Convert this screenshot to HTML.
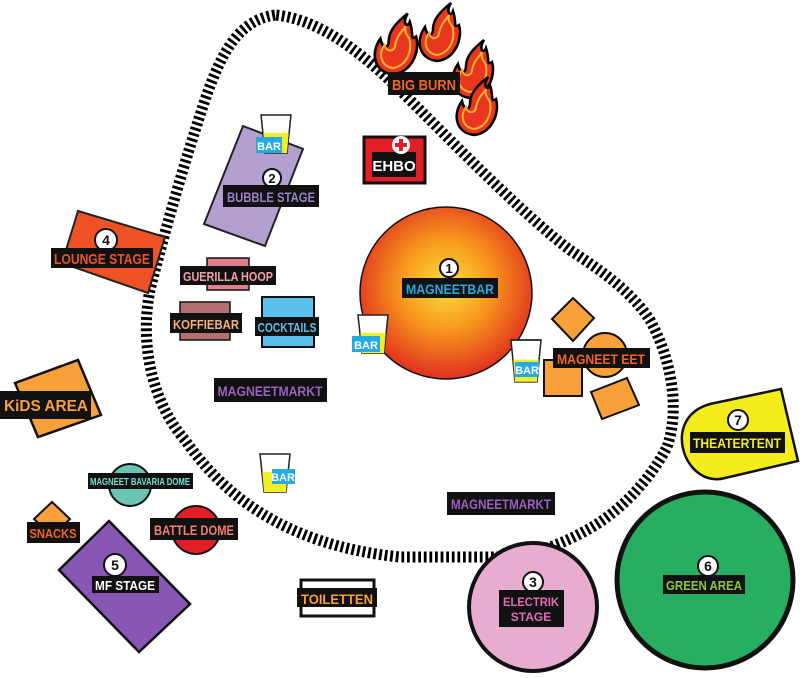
<!DOCTYPE html>
<html><head><meta charset="utf-8"><style>
html,body{margin:0;padding:0;background:#fff;}
svg text{font-family:"Liberation Sans Narrow","Liberation Sans",sans-serif;font-weight:bold;}
</style></head><body>
<svg width="800" height="673" viewBox="0 0 800 673" xmlns="http://www.w3.org/2000/svg">
<defs>
<radialGradient id="mg" cx="0.5" cy="0.45" r="0.55">
<stop offset="0" stop-color="#fbe23a"/><stop offset="0.5" stop-color="#f7941d"/><stop offset="1" stop-color="#e0301e"/>
</radialGradient>
<g id="flame"><path d="M0,28 C-18,26 -22,8 -12,-6 C-10,4 -4,4 -4,-4 C-4,-14 4,-22 14,-30 C8,-20 14,-16 16,-22 C20,-10 16,-4 22,-8 C26,6 18,26 0,28 Z" fill="#e8361f" stroke="#000" stroke-width="2.5"/>
<path d="M0,22 C-12,20 -14,8 -8,0 C-6,8 2,6 2,0 C4,-10 10,-14 12,-18 C10,-10 16,-8 16,-4 C18,8 12,20 0,22 Z" fill="none" stroke="#f9b233" stroke-width="2"/></g>
<g id="cup"><path d="M0,0 H30 L26,38 H4 Z" fill="#fff" stroke="#222" stroke-width="1.5"/><path d="M2.3,18 H27.7 L26,38 H4 Z" fill="#f2ee2a"/></g>
</defs>

<!-- boundary -->
<path d="M275,15 C240,20 222,50 205,100 C185,160 165,230 150,290 C140,340 150,400 185,440 C220,490 280,545 400,557 L490,557 C530,557 560,545 587,530 C620,512 650,480 667,447 C680,410 672,360 650,320 C630,290 600,270 570,250 C530,220 470,160 420,110 C380,70 330,20 275,15 Z" fill="none" stroke="#000" stroke-width="11" stroke-dasharray="2.8,2.8"/>

<!-- flames -->
<use href="#flame" transform="translate(393,45) scale(1.05)"/>
<use href="#flame" transform="translate(437,33)"/>
<use href="#flame" transform="translate(470,70)"/>
<use href="#flame" transform="translate(474,107)"/>
<rect x="388" y="72" width="72" height="23" fill="#111"/>
<text x="424" y="90" font-size="15" fill="#f26522" text-anchor="middle" textLength="64" lengthAdjust="spacingAndGlyphs">BIG BURN</text>

<!-- EHBO -->
<rect x="364" y="137" width="61" height="46" fill="#e31e24" stroke="#111" stroke-width="3"/>
<rect x="372" y="152" width="44" height="25" fill="#111"/>
<text x="394" y="171" font-size="15" fill="#fff" text-anchor="middle">EHBO</text>
<circle cx="401" cy="145" r="9" fill="#fff"/>
<path d="M399,139 h4 v4 h4 v4 h-4 v4 h-4 v-4 h-4 v-4 h4 z" fill="#e31e24"/>

<!-- Bubble stage -->
<polygon points="243,126 303,149 265,246 204,224" fill="#b4a0d0" stroke="#222" stroke-width="2"/>
<use href="#cup" transform="translate(261,115)"/>
<rect x="256" y="137" width="26" height="16" fill="#27aae1"/>
<text x="269" y="150" font-size="11" fill="#fff" text-anchor="middle">BAR</text>
<circle cx="272" cy="178" r="9" fill="#fff" stroke="#111" stroke-width="2"/>
<text x="272" y="183" font-size="13" fill="#111" text-anchor="middle">2</text>
<rect x="223" y="185" width="96" height="22" fill="#111"/>
<text x="271" y="202" font-size="14" fill="#9b7fc9" text-anchor="middle" textLength="88" lengthAdjust="spacingAndGlyphs">BUBBLE STAGE</text>

<!-- Lounge stage -->
<polygon points="78,211 165,237 148,293 62,263" fill="#ee5224" stroke="#222" stroke-width="2"/>
<circle cx="106" cy="240" r="11" fill="#fff" stroke="#111" stroke-width="2"/>
<text x="106" y="245" font-size="14" fill="#111" text-anchor="middle">4</text>
<rect x="51" y="248" width="102" height="20" fill="#111"/>
<text x="102" y="264" font-size="15" fill="#ee5224" text-anchor="middle" textLength="96" lengthAdjust="spacingAndGlyphs">LOUNGE STAGE</text>

<!-- Guerilla hoop -->
<rect x="207" y="258" width="42" height="32" fill="#e07e8c" stroke="#111" stroke-width="1.5"/>
<rect x="180" y="266" width="96" height="19" fill="#111"/>
<text x="228" y="281" font-size="13" fill="#f0a0aa" text-anchor="middle" textLength="90" lengthAdjust="spacingAndGlyphs">GUERILLA HOOP</text>

<!-- Koffiebar -->
<rect x="180" y="302" width="50" height="38" fill="#b46f6f" stroke="#111" stroke-width="1.5"/>
<rect x="170" y="313" width="72" height="20" fill="#111"/>
<text x="206" y="329" font-size="13" fill="#f6b07a" text-anchor="middle" textLength="66" lengthAdjust="spacingAndGlyphs">KOFFIEBAR</text>

<!-- Cocktails -->
<rect x="262" y="297" width="52" height="50" fill="#5bc0eb" stroke="#111" stroke-width="2"/>
<rect x="255" y="317" width="64" height="19" fill="#111"/>
<text x="287" y="332" font-size="13" fill="#5bc0eb" text-anchor="middle" textLength="59" lengthAdjust="spacingAndGlyphs">COCKTAILS</text>

<!-- Magneetmarkt 1 -->
<rect x="214" y="378" width="113" height="24" fill="#111"/>
<text x="270" y="396" font-size="14" fill="#9b5fc0" text-anchor="middle" textLength="105" lengthAdjust="spacingAndGlyphs">MAGNEETMARKT</text>

<!-- Kids area -->
<polygon points="15,383 78,360 101,415 38,437" fill="#f8a13b" stroke="#111" stroke-width="2.5"/>
<rect x="0" y="391" width="91" height="28" fill="#111"/>
<text x="46" y="411" font-size="16" fill="#f8a13b" text-anchor="middle" textLength="84" lengthAdjust="spacingAndGlyphs">KiDS AREA</text>

<!-- Magneetbar -->
<circle cx="446" cy="293" r="86" fill="url(#mg)" stroke="#111" stroke-width="1.5"/>
<circle cx="449" cy="268" r="9" fill="#fff" stroke="#111" stroke-width="2"/>
<text x="449" y="273" font-size="13" fill="#111" text-anchor="middle">1</text>
<rect x="402" y="278" width="96" height="20" fill="#111"/>
<text x="450" y="294" font-size="14" fill="#27aae1" text-anchor="middle" textLength="88" lengthAdjust="spacingAndGlyphs">MAGNEETBAR</text>
<use href="#cup" transform="translate(358,315)"/>
<rect x="352" y="336" width="28" height="16" fill="#27aae1"/>
<text x="366" y="349" font-size="11" fill="#fff" text-anchor="middle">BAR</text>

<!-- Magneet eet -->
<polygon points="573,298 594,318 573,341 552,319" fill="#f8a13b" stroke="#111" stroke-width="2"/>
<circle cx="605" cy="355" r="22" fill="#f8a13b" stroke="#111" stroke-width="2"/>
<rect x="544" y="360" width="38" height="36" fill="#f8a13b" stroke="#111" stroke-width="2"/>
<polygon points="591,392 627,378 639,405 602,419" fill="#f8a13b" stroke="#111" stroke-width="2"/>
<use href="#cup" transform="translate(511,340) scale(1,1.1)"/>
<rect x="515" y="362" width="24" height="15" fill="#27aae1"/>
<text x="527" y="374" font-size="11" fill="#fff" text-anchor="middle">BAR</text>
<rect x="553" y="348" width="97" height="20" fill="#111"/>
<text x="601" y="364" font-size="14" fill="#f26522" text-anchor="middle" textLength="88" lengthAdjust="spacingAndGlyphs">MAGNEET EET</text>

<!-- Theatertent -->
<path d="M710,404 L781,389 L798,461 L725,478 C700,485 680,460 682,435 C684,418 695,408 710,404 Z" fill="#f5ec1c" stroke="#111" stroke-width="2.5"/>
<circle cx="738" cy="420" r="10" fill="#fff" stroke="#111" stroke-width="2"/>
<text x="738" y="425" font-size="14" fill="#111" text-anchor="middle">7</text>
<rect x="690" y="432" width="95" height="21" fill="#111"/>
<text x="737" y="448" font-size="14" fill="#f5ec1c" text-anchor="middle" textLength="88" lengthAdjust="spacingAndGlyphs">THEATERTENT</text>

<!-- Green area -->
<circle cx="705" cy="580" r="88" fill="#27ae60" stroke="#111" stroke-width="5"/>
<circle cx="708" cy="566" r="10" fill="#fff" stroke="#111" stroke-width="2"/>
<text x="708" y="571" font-size="14" fill="#111" text-anchor="middle">6</text>
<rect x="663" y="575" width="82" height="19" fill="#111"/>
<text x="704" y="590" font-size="13" fill="#8dc63f" text-anchor="middle" textLength="76" lengthAdjust="spacingAndGlyphs">GREEN AREA</text>

<!-- Electrik stage -->
<circle cx="533" cy="607" r="64" fill="#e8acd0" stroke="#111" stroke-width="4"/>
<circle cx="533" cy="582" r="10" fill="#fff" stroke="#111" stroke-width="2"/>
<text x="533" y="587" font-size="14" fill="#111" text-anchor="middle">3</text>
<rect x="499" y="590" width="65" height="37" fill="#111"/>
<text x="531" y="606" font-size="12" fill="#e36cb5" text-anchor="middle" textLength="56" lengthAdjust="spacingAndGlyphs">ELECTRIK</text>
<text x="531" y="621" font-size="12" fill="#e36cb5" text-anchor="middle">STAGE</text>

<!-- Magneetmarkt 2 -->
<rect x="447" y="492" width="108" height="23" fill="#111"/>
<text x="501" y="509" font-size="14" fill="#9b5fc0" text-anchor="middle" textLength="100" lengthAdjust="spacingAndGlyphs">MAGNEETMARKT</text>

<!-- bar bottom -->
<use href="#cup" transform="translate(260,454)"/>
<rect x="272" y="469" width="23" height="15" fill="#27aae1"/>
<text x="283" y="481" font-size="11" fill="#fff" text-anchor="middle">BAR</text>

<!-- Bavaria dome -->
<circle cx="130" cy="485" r="21" fill="#6cc4b4" stroke="#111" stroke-width="2"/>
<rect x="88" y="473" width="105" height="16" fill="#111"/>
<text x="140" y="485" font-size="10" fill="#7ee0d0" text-anchor="middle" textLength="100" lengthAdjust="spacingAndGlyphs">MAGNEET BAVARIA DOME</text>

<!-- Snacks -->
<polygon points="52,502 70,519 52,536 34,519" fill="#f8a13b" stroke="#111" stroke-width="2"/>
<rect x="27" y="522" width="53" height="21" fill="#111"/>
<text x="53" y="538" font-size="13" fill="#f26522" text-anchor="middle" textLength="47" lengthAdjust="spacingAndGlyphs">SNACKS</text>

<!-- Battle dome -->
<circle cx="196" cy="530" r="24" fill="#e31e24" stroke="#111" stroke-width="2"/>
<rect x="150" y="518" width="88" height="22" fill="#111"/>
<text x="194" y="535" font-size="14" fill="#f08070" text-anchor="middle" textLength="80" lengthAdjust="spacingAndGlyphs">BATTLE DOME</text>

<!-- MF stage -->
<polygon points="59,570 109,521 190,604 139,652" fill="#8856b5" stroke="#111" stroke-width="2.5"/>
<circle cx="115" cy="565" r="11" fill="#fff" stroke="#111" stroke-width="2"/>
<text x="115" y="570" font-size="14" fill="#111" text-anchor="middle">5</text>
<rect x="92" y="576" width="67" height="17" fill="#111"/>
<text x="125" y="590" font-size="13" fill="#fff" text-anchor="middle" textLength="60" lengthAdjust="spacingAndGlyphs">MF STAGE</text>

<!-- Toiletten -->
<rect x="301" y="580" width="73" height="36" fill="#fff" stroke="#111" stroke-width="3"/>
<rect x="297" y="588" width="80" height="19" fill="#111"/>
<text x="337" y="604" font-size="14" fill="#f8a13b" text-anchor="middle" textLength="72" lengthAdjust="spacingAndGlyphs">TOILETTEN</text>
</svg>
</body></html>
